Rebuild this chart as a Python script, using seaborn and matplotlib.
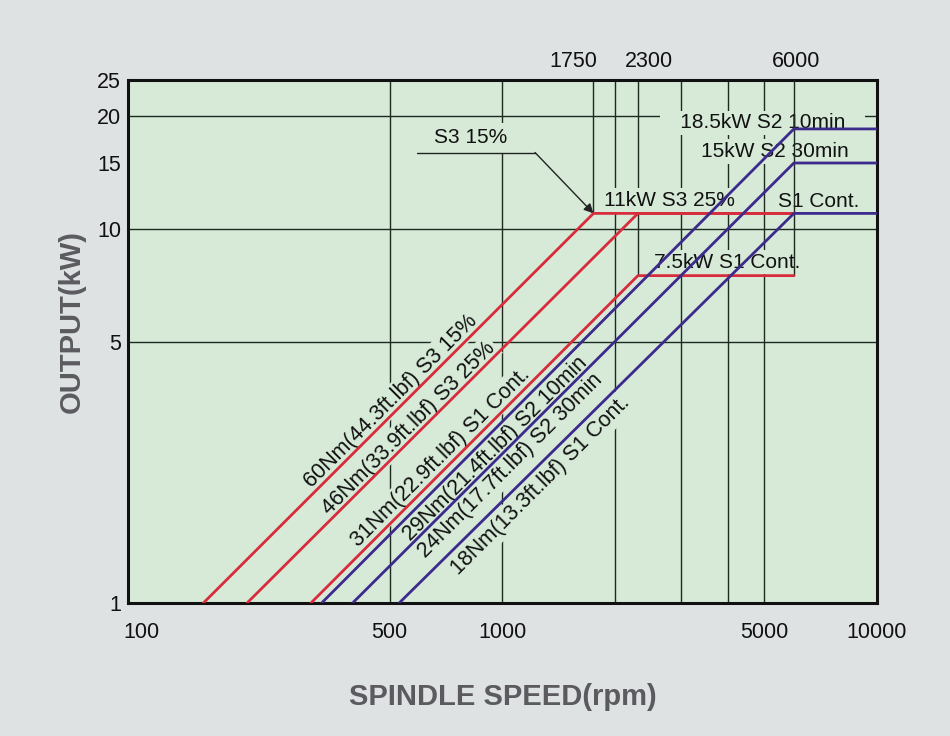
import pandas as pd
import seaborn as sns
import matplotlib.pyplot as plt
from matplotlib.ticker import NullLocator
from matplotlib.transforms import ScaledTranslation

# curves: constant torque up to the corner speed, then constant power
curves = ["60Nm S3 15%", "46Nm S3 25%", "31Nm S1 Cont.",
          "29Nm S2 10min", "24Nm S2 30min", "18Nm S1 Cont."]
start_rpm = [159, 208, 308, 329, 398, 530]        # speed where the line leaves 1 kW
corner_rpm = [1750, 2300, 2300, 6000, 6000, 6000]
end_rpm = [6000, 6000, 6000, 10000, 10000, 10000]
rated_kw = [11, 11, 7.5, 18.5, 15, 11]
curve_colors = ["#d82c3c", "#d82c3c", "#d82c3c", "#3c2b8c", "#3c2b8c", "#3c2b8c"]

# labels
torque_labels = ["60Nm(44.3ft.lbf) S3 15%", "46Nm(33.9ft.lbf) S3 25%",
                 "31Nm(22.9ft.lbf) S1 Cont.", "29Nm(21.4ft.lbf) S2 10min",
                 "24Nm(17.7ft.lbf) S2 30min", "18Nm(13.3ft.lbf) S1 Cont."]
torque_label_pos = [(502, 3.45), (561, 2.93), (684, 2.45), (958, 2.59), (1050, 2.33), (1262, 2.06)]
power_labels = ["18.5kW S2 10min", "15kW S2 30min", "11kW S3 25%", "S1 Cont.", "7.5kW S1 Cont."]
power_label_pos = [(4960, 19.2), (5340, 16.1), (2800, 11.9), (7000, 11.85), (3980, 8.15)]

x_ticks = [100, 500, 1000, 5000, 10000]
y_ticks = [1, 5, 10, 15, 20, 25]
top_ticks = [1750, 2300, 6000]

# grid: full verticals, partial verticals (from top down to kW), horizontals
grid_rpm = [500, 1000, 2000, 3000, 4000, 5000]
part_grid_rpm = [1750, 2300]
part_grid_kw = [11, 7.5]
grid_kw = [5, 10, 20]

rows = []
for name, s, c, e, p in zip(curves, start_rpm, corner_rpm, end_rpm, rated_kw):
    rows += [(name, s, 1), (name, c, p), (name, e, p)]
df = pd.DataFrame(rows, columns=["curve", "rpm", "kw"])

sns.set_theme(style="white")
plt.rcParams["font.family"] = ["Liberation Sans", "DejaVu Sans"]

bg = "#d6ead7"
grid_c = "#1e2a20"
fig = plt.figure(figsize=(9.5, 7.36), dpi=100, facecolor="#dfe2e3")
ax = fig.add_axes([0.1347, 0.1807, 0.7884, 0.7106], facecolor=bg)

ax.set(xscale="log", yscale="log", xlim=(100, 10000), ylim=(1, 25))

# grid lines (text boxes hide them, except the 6000 rpm line)
ax.vlines(grid_rpm, 1, 25, color=grid_c, lw=1, zorder=1)
ax.vlines(part_grid_rpm, part_grid_kw, 25, color=grid_c, lw=1, zorder=1)
ax.vlines([6000], [7.5], 25, color=grid_c, lw=1, zorder=3.5)
ax.hlines(grid_kw, 100, 10000, color=grid_c, lw=1, zorder=1)

sns.lineplot(data=df, x="rpm", y="kw", hue="curve", palette=curve_colors,
             sort=False, estimator=None, legend=False, linewidth=2, ax=ax, zorder=4)

box = dict(facecolor=bg, edgecolor="none", pad=2)
for txt, (x, y) in zip(torque_labels, torque_label_pos):
    ax.text(x, y, txt, rotation=45, rotation_mode="anchor", ha="center", va="center",
            fontsize=15.5, color="#111111", bbox=box, zorder=3)
for i, (txt, (x, y)) in enumerate(zip(power_labels, power_label_pos)):
    if i == 0:
        txt = "   " + txt + "   "   # wider box over the 20 kW grid line
    ax.text(x, y, txt, ha="center", va="center", fontsize=15, color="#111111",
            bbox=box, zorder=3)

# S3 15% callout
ax.text(824, 17.5, "S3 15%", ha="center", va="center", fontsize=15, color="#111111",
        bbox=dict(facecolor=bg, edgecolor="none", pad=4), zorder=3)
ax.plot([591, 1222], [16, 16], color="#222222", lw=1, zorder=3)
ax.annotate("", xy=(1750, 11), xytext=(1222, 16),
            arrowprops=dict(arrowstyle="-|>", color="#222222", lw=1,
                            shrinkA=0, shrinkB=0, mutation_scale=14), zorder=3)

ax.set_xticks(x_ticks, [str(t) for t in x_ticks])
ax.set_yticks(y_ticks, [str(t) for t in y_ticks])
ax.xaxis.set_minor_locator(NullLocator())
ax.yaxis.set_minor_locator(NullLocator())
ax.tick_params(axis="x", length=0, pad=14, labelsize=15.5, colors="#111111")
ax.tick_params(axis="y", length=0, pad=5, labelsize=15.5, colors="#111111")
lab = ax.get_xticklabels()[0]
lab.set_transform(lab.get_transform() + ScaledTranslation(13 / 100, 0, fig.dpi_scale_trans))

top = ax.secondary_xaxis("top")
top.set_xticks(top_ticks, [str(t) for t in top_ticks])
top.xaxis.set_minor_locator(NullLocator())
top.tick_params(length=0, pad=6, labelsize=15.5, colors="#111111")
top.spines["top"].set_visible(False)
# the 1750 / 2300 labels are pushed apart in the original
for lab, dx in zip(top.get_xticklabels(), [-20, 11, 2]):
    lab.set_transform(lab.get_transform() + ScaledTranslation(dx / 100, 0, fig.dpi_scale_trans))

for sp in ax.spines.values():
    sp.set_linewidth(2.2)
    sp.set_color("#111111")

ax.set_xlabel("SPINDLE SPEED(rpm)", fontsize=21, fontweight="bold", color="#5a5a5f")
ax.set_ylabel("OUTPUT(kW)", fontsize=21, fontweight="bold", color="#5a5a5f")
ax.xaxis.set_label_coords(0.5, -0.152)
ax.yaxis.set_label_coords(-0.056, 0.539)

fig.savefig("out.png", dpi=100, facecolor=fig.get_facecolor())
